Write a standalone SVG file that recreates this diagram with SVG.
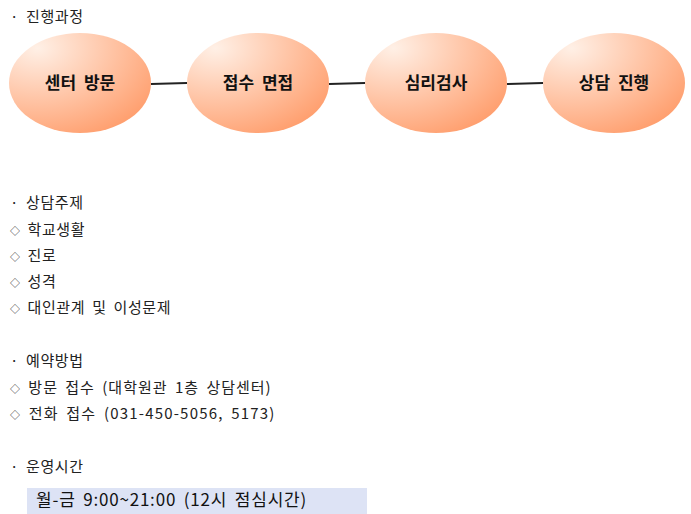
<svg xmlns="http://www.w3.org/2000/svg" width="691" height="514" viewBox="0 0 691 514">
<defs>
<radialGradient id="g" cx="0.2" cy="0.15" r="0.95">
<stop offset="0" stop-color="#fff0e6"/>
<stop offset="1" stop-color="#ffa070"/>
</radialGradient>
<style>
.t{font-family:"Noto Sans CJK KR","Noto Sans",sans-serif;font-size:15px;fill:#222;letter-spacing:0.6px;word-spacing:3px}
.d{font-size:10px}
.n{font-family:"Noto Sans CJK KR",sans-serif;font-size:17px;font-weight:bold;fill:#111;text-anchor:middle;word-spacing:4px}
.e{fill:url(#g);stroke:none}
</style>
</defs>
<rect width="691" height="514" fill="#fff"/>
<g id="connectors" stroke="#222" stroke-width="2">
<line x1="151" y1="84" x2="187" y2="83"/>
<line x1="329" y1="84" x2="365" y2="83"/>
<line x1="507" y1="84" x2="543" y2="83"/>
</g>
<g id="n1"><ellipse class="e" cx="80" cy="83" rx="71" ry="50"/><text class="n" x="80" y="89">센터 방문</text></g>
<g id="n2"><ellipse class="e" cx="258" cy="83" rx="71" ry="50"/><text class="n" x="258" y="89">접수 면접</text></g>
<g id="n3"><ellipse class="e" cx="436" cy="83" rx="71" ry="50"/><text class="n" x="436" y="89">심리검사</text></g>
<g id="n4"><ellipse class="e" cx="614" cy="83" rx="71" ry="50"/><text class="n" x="614" y="89">상담 진행</text></g>
<text class="t" x="10" y="22">· 진행과정</text>
<text class="t" x="10" y="208">· 상담주제</text>
<text class="t" x="10" y="235"><tspan class="d">◇</tspan> 학교생활</text>
<text class="t" x="10" y="261"><tspan class="d">◇</tspan> 진로</text>
<text class="t" x="10" y="287"><tspan class="d">◇</tspan> 성격</text>
<text class="t" x="10" y="313"><tspan class="d">◇</tspan> 대인관계 및 이성문제</text>
<text class="t" x="10" y="366">· 예약방법</text>
<text class="t" x="10" y="393" style="letter-spacing:1px"><tspan class="d">◇</tspan> 방문 접수 (대학원관 1층 상담센터)</text>
<text class="t" x="10" y="419" style="letter-spacing:1.2px"><tspan class="d">◇</tspan> 전화 접수 (031-450-5056, 5173)</text>
<text class="t" x="10" y="472">· 운영시간</text>
<rect x="27" y="488" width="340" height="26" fill="#dde3f5"/>
<text class="t" x="36" y="506" style="font-size:17px;fill:#111;letter-spacing:0.8px">월-금 9:00~21:00 (12시 점심시간)</text>
</svg>
